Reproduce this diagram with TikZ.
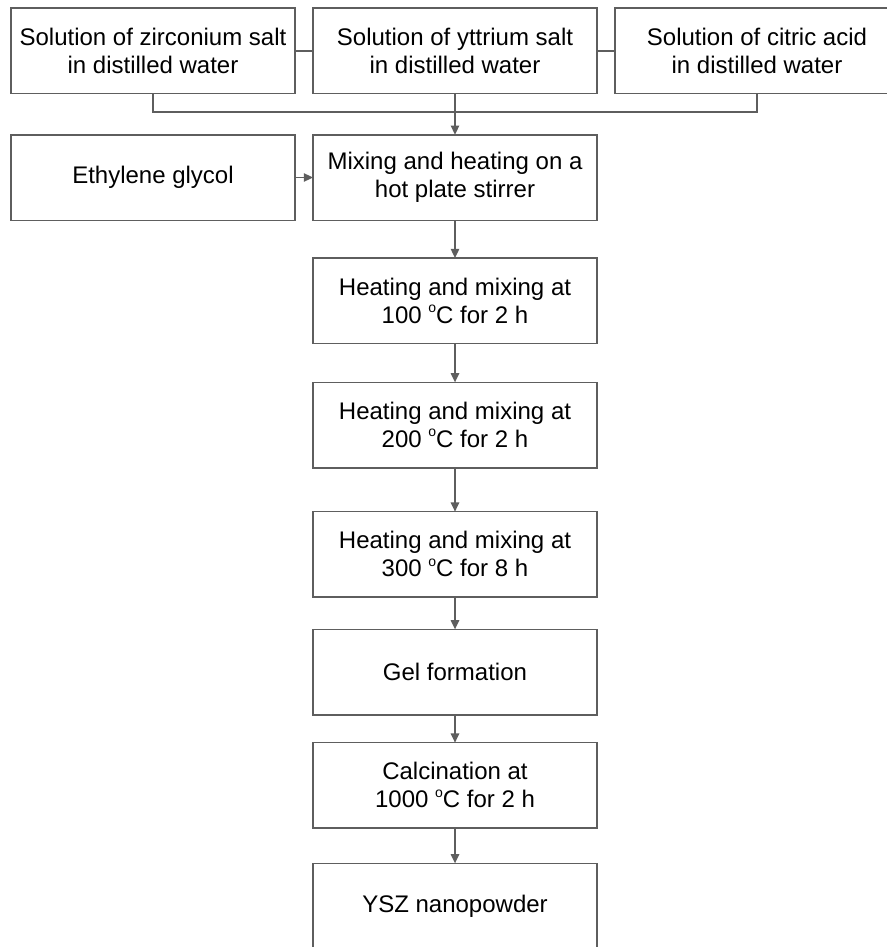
\documentclass[tikz,border=0pt]{standalone}
\usepackage{fontspec}
\setmainfont{Liberation Sans}
\usepackage{tikz}
\usetikzlibrary{arrows.meta,positioning}
\definecolor{yszgray}{HTML}{5E5E5E}
\tikzset{
  procbox/.style={draw=yszgray, line width=0.75pt, minimum width=142pt,
    minimum height=42.75pt, align=center, inner sep=2pt, outer sep=0pt,
    font=\fontsize{12}{14}\selectfont},
  link/.style={draw=yszgray, line width=0.75pt},
  flow/.style={link, -{Triangle[length=4.6pt,width=4.2pt]}},
}
\newcommand{\degc}{\raisebox{0.85ex}{\fontsize{7}{7}\selectfont o}C}

\begin{document}
\begin{tikzpicture}[x=0.5pt,y=-0.5pt]
\useasboundingbox (0,0) rectangle (887,947);
\node[procbox] (zr) at (153,51) {Solution of zirconium salt\\in distilled water};
\node[procbox] (yt) at (455,51) {Solution of yttrium salt\\in distilled water};
\node[procbox] (ca) at (757,51) {Solution of citric acid\\in distilled water};
\node[procbox] (eg) at (153,177.5) {Ethylene glycol};
\node[procbox] (mix) at (455,177.5) {Mixing and heating on a\\hot plate stirrer};
\node[procbox, below=18.9pt of mix] (h100) {Heating and mixing at\\100 \degc{} for 2 h};
\node[procbox, below=19.4pt of h100] (h200) {Heating and mixing at\\200 \degc{} for 2 h};
\node[procbox, below=21.9pt of h200] (h300) {Heating and mixing at\\300 \degc{} for 8 h};
\node[procbox, below=16.1pt of h300] (gel) {Gel formation};
\node[procbox, below=13.9pt of gel] (calc) {Calcination at\\1000 \degc{} for 2 h};
\node[procbox, below=17.6pt of calc] (ysz) {YSZ nanopowder};

\coordinate (join) at (455,112);
\draw[link] (zr) -- (yt);
\draw[link] (yt) -- (ca);
\draw[link] (zr.south) |- (join) -| (ca.south);
\draw[flow] (yt) -- (mix);
\draw[flow] (eg) -- (mix);
\draw[flow] (mix) -- (h100);
\draw[flow] (h100) -- (h200);
\draw[flow] (h200) -- (h300);
\draw[flow] (h300) -- (gel);
\draw[flow] (gel) -- (calc);
\draw[flow] (calc) -- (ysz);
\end{tikzpicture}
\end{document}
